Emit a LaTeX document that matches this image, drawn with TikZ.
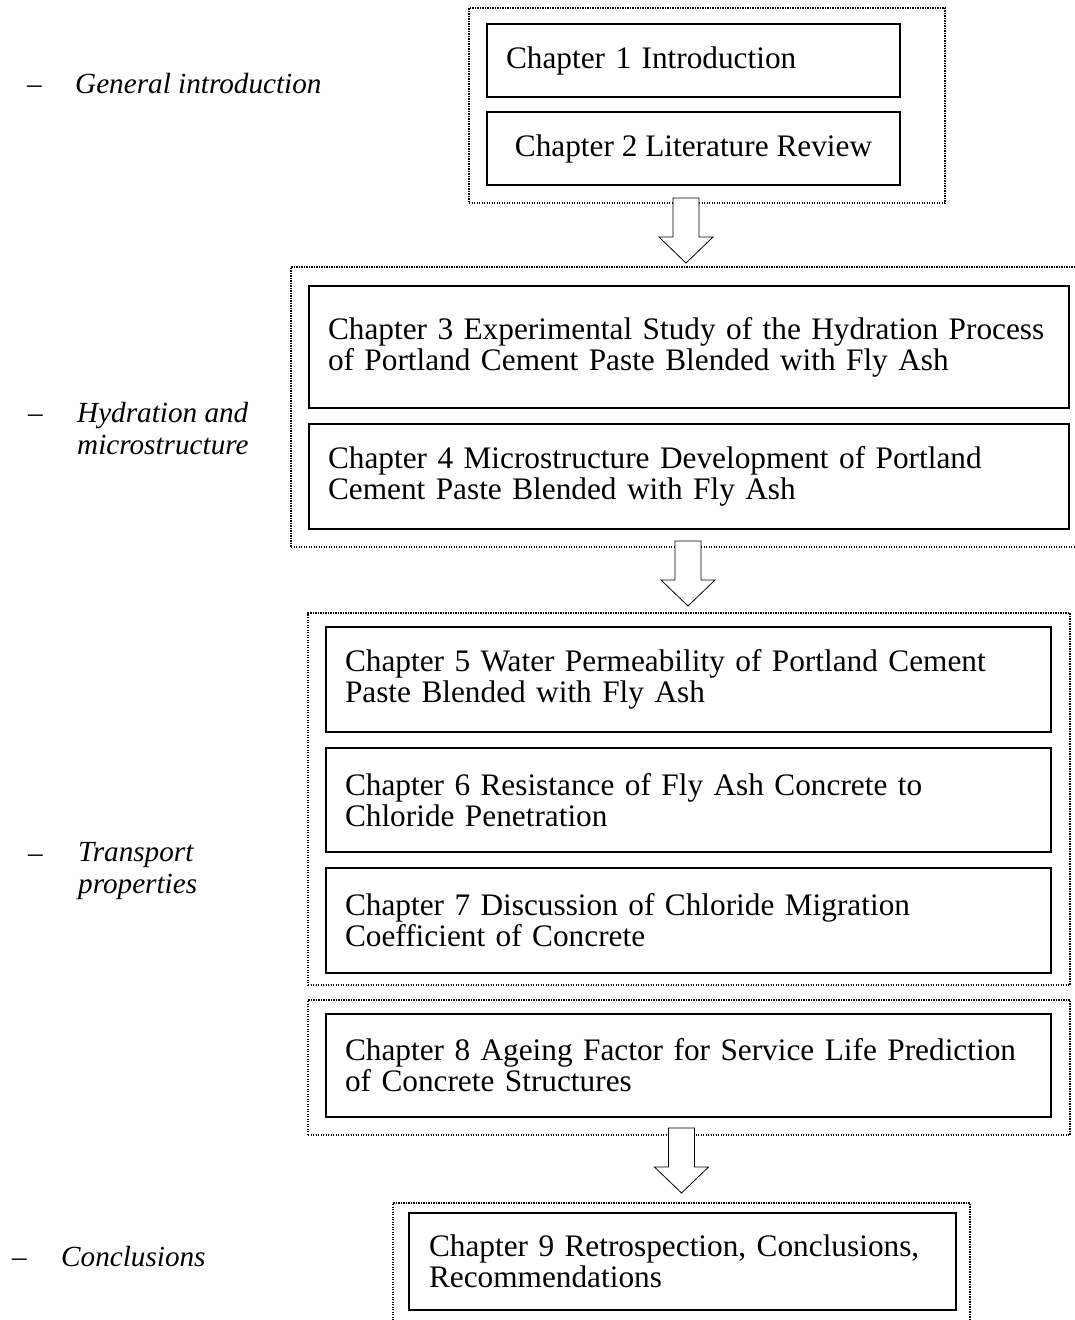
\documentclass[tikz,border=0pt]{standalone}
\usepackage{fontspec}
\setmainfont{Liberation Serif}
\usepackage{tikz}

\newcommand{\chapfont}{\fontsize{31.3}{31}\selectfont\hyphenpenalty=10000 }
\newcommand{\lblfont}{\fontsize{29.2}{32}\selectfont\itshape}

\tikzset{
  chapbox/.style={draw, rectangle, line width=1.2pt, inner xsep=19pt, inner ysep=0pt,
    align=left, font=\chapfont},
  grpbox/.style={draw, rectangle, line width=1.3pt, dash pattern=on 1.3pt off 1.2pt,
    inner sep=0pt},
  sidelbl/.style={font=\lblfont, align=left, inner sep=0pt},
  dashmark/.style={font=\lblfont\upshape, inner sep=0pt, anchor=base west},
  blockarrow/.style={draw, line width=0.8pt, fill=white}
}

\begin{document}
\begin{tikzpicture}[x=1pt, y=-1pt]
  \useasboundingbox (0,0) rectangle (1074,1320);
  % 外框
  \node[grpbox, minimum width=476pt, minimum height=195pt] (grp1) at (707,105.5) {};
  \node[grpbox, minimum width=787pt, minimum height=280pt] (grp2) at (684.5,407) {};
  \node[grpbox, minimum width=762pt, minimum height=372pt] (grp3) at (689,799) {};
  \node[grpbox, minimum width=762pt, minimum height=135pt] (grp4) at (689,1067.5) {};
  \node[grpbox, minimum width=577pt, minimum height=130pt] (grp5) at (681.5,1268) {};
  % 章节
  \node[chapbox, minimum width=413pt, minimum height=73pt, text width=375pt] (ch1)
    at (693.5,60.5) {Chapter 1 Introduction};
  \node[chapbox, minimum width=413pt, minimum height=73pt, align=center] (ch2)
    at (693.5,148.5) {Chapter 2 Literature Review};
  \node[chapbox, minimum width=760pt, minimum height=122pt, text width=722pt] (ch3)
    at (689,347) {Chapter 3 Experimental Study of the Hydration Process\\of Portland Cement Paste Blended with Fly Ash};
  \node[chapbox, minimum width=760pt, minimum height=105pt, text width=722pt] (ch4)
    at (689,476.5) {Chapter 4 Microstructure Development of Portland\\Cement Paste Blended with Fly Ash};
  \node[chapbox, minimum width=725pt, minimum height=105pt, text width=687pt] (ch5)
    at (688.5,679.5) {Chapter 5 Water Permeability of Portland Cement\\Paste Blended with Fly Ash};
  \node[chapbox, minimum width=725pt, minimum height=104pt, text width=687pt] (ch6)
    at (688.5,800) {Chapter 6 Resistance of Fly Ash Concrete to\\Chloride Penetration};
  \node[chapbox, minimum width=725pt, minimum height=105pt, text width=687pt] (ch7)
    at (688.5,920.5) {Chapter 7 Discussion of Chloride Migration\\Coefficient of Concrete};
  \node[chapbox, minimum width=725pt, minimum height=103pt, text width=687pt] (ch8)
    at (688.5,1065.5) {Chapter 8 Ageing Factor for Service Life Prediction\\of Concrete Structures};
  \node[chapbox, minimum width=547pt, minimum height=97pt, text width=507pt, inner xsep=20pt] (ch9)
    at (682.5,1261.5) {Chapter 9 Retrospection, Conclusions,\\Recommendations};
  % 箭头
  \coordinate (arr1) at (686,198);
  \coordinate (arr2) at (688,541);
  \coordinate (arr3) at (681.5,1128);
  \foreach \a in {arr1,arr2,arr3}
    \draw[blockarrow] (\a) ++(-13,0) -- ++(0,39) -- ++(-14,0) -- ++(27,26)
      -- ++(27,-26) -- ++(-14,0) -- ++(0,-39) -- cycle;
  % 左侧标签
  \node[dashmark] (d1) at (27,93) {–};
  \node[sidelbl, anchor=base west] (lblgen) at (75,93) {General introduction};
  \node[dashmark] (d2) at (28,422) {–};
  \node[sidelbl, anchor=north west] (lblhyd) at (77,402) {Hydration and\\microstructure};
  \node[dashmark] (d3) at (28,862) {–};
  \node[sidelbl, anchor=north west] (lbltra) at (78,842) {Transport\\properties};
  \node[dashmark] (d4) at (12,1266) {–};
  \node[sidelbl, anchor=base west] (lblcon) at (61,1266) {Conclusions};
\end{tikzpicture}
\end{document}
